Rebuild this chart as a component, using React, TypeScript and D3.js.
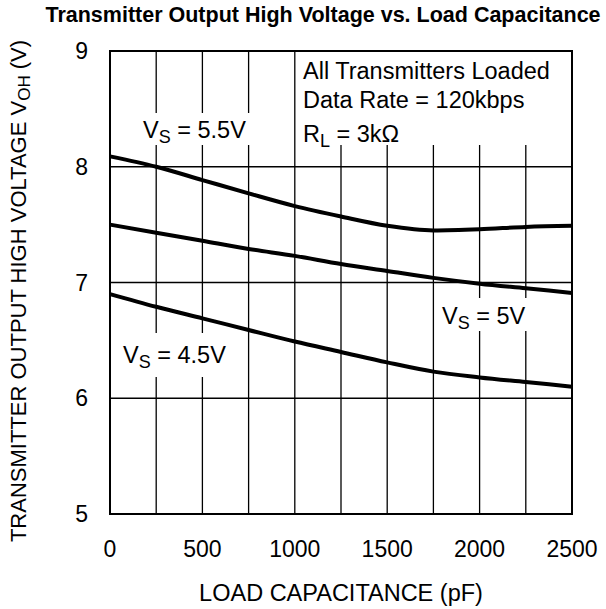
import React from "react";
import * as d3 from "d3";

const capacitance = [0, 250, 500, 750, 1000, 1250, 1500, 1750, 2000, 2250, 2500];
const vs55 = [8.09, 8.0, 7.885, 7.77, 7.66, 7.57, 7.49, 7.45, 7.46, 7.48, 7.49];
const vs50 = [7.5, 7.43, 7.36, 7.29, 7.23, 7.16, 7.1, 7.04, 6.99, 6.95, 6.91];
const vs45 = [6.9, 6.79, 6.69, 6.59, 6.49, 6.4, 6.31, 6.23, 6.18, 6.14, 6.1];
const xTicks = [0, 500, 1000, 1500, 2000, 2500];
const xGrid = [250, 500, 750, 1000, 1250, 1500, 1750, 2000, 2250];
const yTicks = [5, 6, 7, 8, 9];
const yGrid = [6, 7, 8];

const W = 606, H = 609;
const L = 110, R = 572, T = 51, B = 514;
const FONT = "Liberation Sans, Arial, sans-serif";
const FS = 23;
const SUB = 18;

function Sub({ x, y, main, sub, rest }: { x: number; y: number; main: string; sub: string; rest: string }) {
  return (
    <text x={x} y={y}>
      {main}
      <tspan fontSize={SUB} dy={5}>{sub}</tspan>
      <tspan dy={-5}>{rest}</tspan>
    </text>
  );
}

export default function App() {
  const x = d3.scaleLinear().domain([0, 2500]).range([L, R]);
  const y = d3.scaleLinear().domain([5, 9]).range([B, T]);
  const line = d3.line<number>().x((_, i) => x(capacitance[i])).y((d) => y(d)).curve(d3.curveMonotoneX);
  const series = [vs55, vs50, vs45];
  const boxes = [
    { x0: 296, y0: T + 1, x1: R - 1, y1: 145 },
    { x0: 140, y0: 113, x1: 251, y1: 145 },
    { x0: 120, y0: 333, x1: 230, y1: 377 },
    { x0: 438, y0: 298, x1: 531, y1: 331 },
  ];
  return (
    <svg width={W} height={H} style={{ position: "absolute", left: 0, top: 0 }} fontFamily={FONT}>
      <rect width={W} height={H} fill="#fff" />
      <text x={323} y={22} textAnchor="middle" fontSize={21.5} fontWeight="bold">
        Transmitter Output High Voltage vs. Load Capacitance
      </text>
      {xGrid.map((v) => (
        <line key={"xg" + v} x1={x(v)} x2={x(v)} y1={T} y2={B} stroke="#000" strokeWidth={1.3} />
      ))}
      {yGrid.map((v) => (
        <line key={"yg" + v} x1={L} x2={R} y1={y(v)} y2={y(v)} stroke="#000" strokeWidth={1.3} />
      ))}
      {boxes.map((b, i) => (
        <rect key={"b" + i} x={b.x0} y={b.y0} width={b.x1 - b.x0} height={b.y1 - b.y0} fill="#fff" />
      ))}
      {series.map((s, i) => (
        <path key={"s" + i} d={line(s) || ""} fill="none" stroke="#000" strokeWidth={4} />
      ))}
      <rect x={L} y={T} width={R - L} height={B - T} fill="none" stroke="#000" strokeWidth={2} />
      {yTicks.map((v) => (
        <text key={"yt" + v} x={88} y={y(v) + 8} textAnchor="end" fontSize={FS}>
          {v}
        </text>
      ))}
      {xTicks.map((v) => (
        <text key={"xt" + v} x={x(v)} y={557} textAnchor="middle" fontSize={FS}>
          {v}
        </text>
      ))}
      <text x={341} y={601} textAnchor="middle" fontSize={23.5}>
        LOAD CAPACITANCE (pF)
      </text>
      <text transform={`translate(26,${291}) rotate(-90)`} textAnchor="middle" fontSize={22}>
        TRANSMITTER OUTPUT HIGH VOLTAGE V
        <tspan fontSize={17} dy={4}>OH</tspan>
        <tspan dy={-4}> (V)</tspan>
      </text>
      <g fontSize={23.5}>
        <text x={303} y={79}>All Transmitters Loaded</text>
        <text x={303} y={108}>Data Rate = 120kbps</text>
        <Sub x={303} y={142} main="R" sub="L" rest=" = 3kΩ" />
        <Sub x={143} y={138} main="V" sub="S" rest=" = 5.5V" />
        <Sub x={123} y={363} main="V" sub="S" rest=" = 4.5V" />
        <Sub x={442} y={324} main="V" sub="S" rest=" = 5V" />
      </g>
    </svg>
  );
}
